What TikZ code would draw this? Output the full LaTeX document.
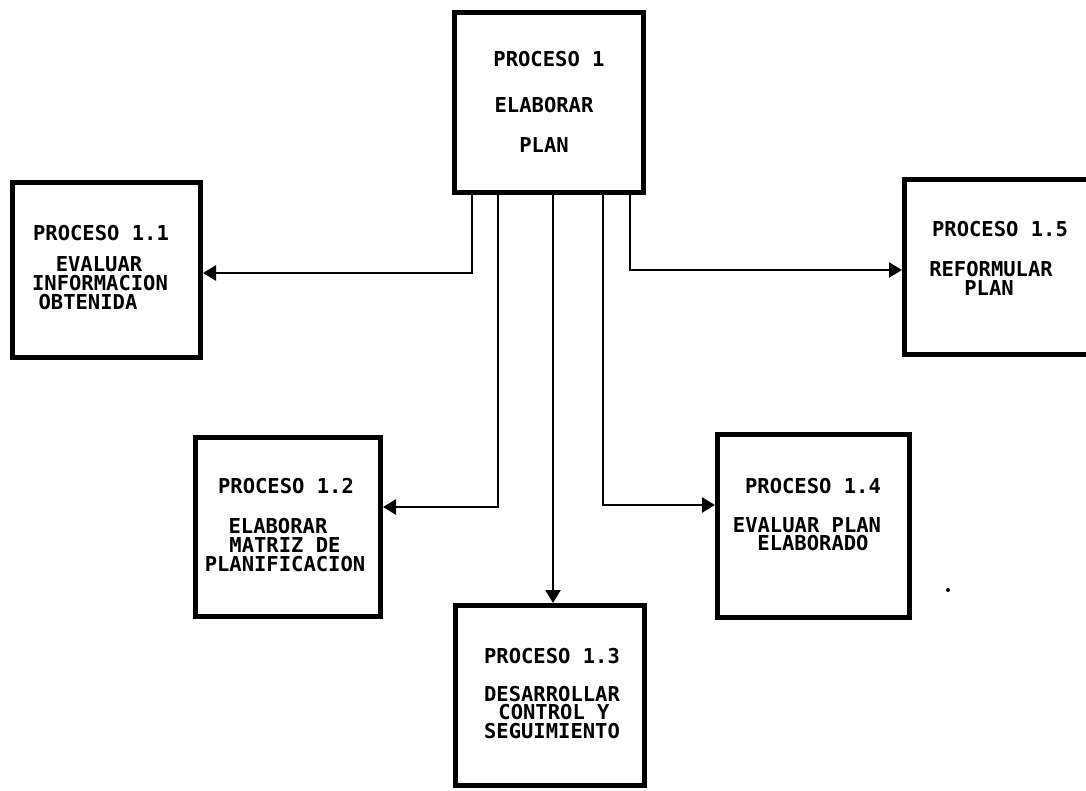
\documentclass[tikz,border=0pt]{standalone}
\usepackage{fontspec}
\newfontfamily\plotfont{DejaVu Sans Mono}
\usetikzlibrary{arrows.meta}
\begin{document}
\begin{tikzpicture}[x=1pt,y=-1pt,
  box/.style={draw, line width=5pt, inner sep=0pt, rectangle},
  lbl/.style={font=\plotfont\bfseries\fontsize{20.5}{20.5}\selectfont, inner sep=0pt},
  conn/.style={line width=2.5pt, -{Triangle[length=13pt,width=15pt]}}]
\useasboundingbox (0,0) rectangle (1086,791);
\clip (0,0) rectangle (1086,791);

% boxes
\node[box, minimum width=189pt, minimum height=180pt] (p1)  at (549,102.5) {};
\node[box, minimum width=188pt, minimum height=175pt] (p11) at (106.5,270) {};
\node[box, minimum width=193pt, minimum height=175pt] (p15) at (1001,267) {};
\node[box, minimum width=185pt, minimum height=179pt] (p12) at (288,527) {};
\node[box, minimum width=192pt, minimum height=183pt] (p14) at (813.5,526) {};
\node[box, minimum width=189pt, minimum height=180pt] (p13) at (550,695.5) {};

% texts
\node[lbl] (t1a) at (549,59) {PROCESO 1};
\node[lbl] (t1b) at (544,105) {ELABORAR};
\node[lbl] (t1c) at (544,145) {PLAN};

\node[lbl] (t11a) at (101,233) {PROCESO 1.1};
\node[lbl] (t11b) at (99,264) {EVALUAR};
\node[lbl] (t11c) at (100,283) {INFORMACION};
\node[lbl] (t11d) at (88,302) {OBTENIDA};

\node[lbl] (t15a) at (1000,229) {PROCESO 1.5};
\node[lbl] (t15b) at (991,269.5) {REFORMULAR};
\node[lbl] (t15c) at (989,288.5) {PLAN};

\node[lbl] (t12a) at (286,486) {PROCESO 1.2};
\node[lbl] (t12b) at (278,526) {ELABORAR};
\node[lbl] (t12c) at (285,545) {MATRIZ DE};
\node[lbl] (t12d) at (285,564) {PLANIFICACION};

\node[lbl] (t14a) at (813,486) {PROCESO 1.4};
\node[lbl] (t14b) at (807,525) {EVALUAR PLAN};
\node[lbl] (t14c) at (813,543.5) {ELABORADO};

\node[lbl] (t13a) at (552,656) {PROCESO 1.3};
\node[lbl] (t13b) at (552,694) {DESARROLLAR};
\node[lbl] (t13c) at (554,712.5) {CONTROL Y};
\node[lbl] (t13d) at (552,731) {SEGUIMIENTO};

% connectors
\draw[conn] ([xshift=20pt]p1.south west) |- ([yshift=-3pt]p11.east);
\draw[conn] ([xshift=46pt]p1.south west) |- ([yshift=20pt]p12.east);
\draw[conn] ([xshift=101pt]p1.south west) -- ([xshift=101pt]p1.south west |- p13.north);
\draw[conn] ([xshift=151pt]p1.south west) |- ([yshift=21pt]p14.west);
\draw[conn] ([xshift=178pt]p1.south west) |- ([yshift=-3pt]p15.west);

% stray dot
\fill (948,590) circle (2pt);
\end{tikzpicture}
\end{document}
